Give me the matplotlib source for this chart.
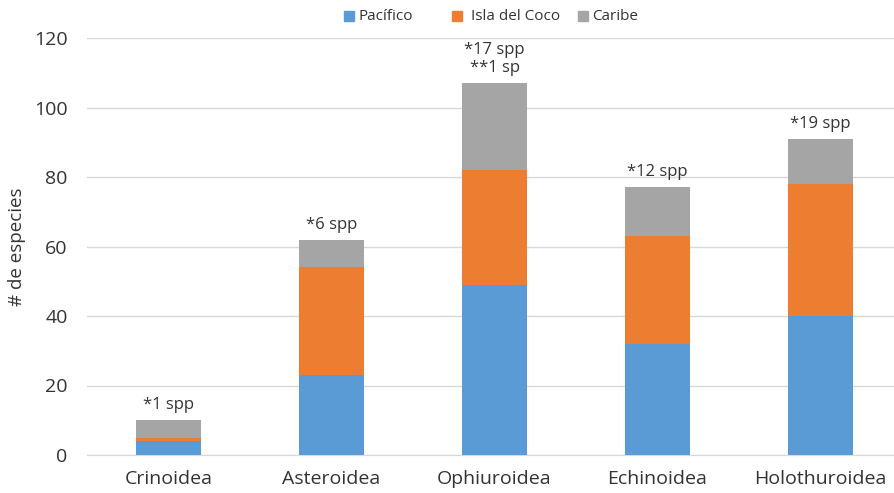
import matplotlib.pyplot as plt
from matplotlib.patches import Rectangle
import numpy as np

plt.rcParams['font.family'] = ['Open Sans', 'DejaVu Sans']

clases = ["Crinoidea", "Asteroidea", "Ophiuroidea", "Echinoidea", "Holothuroidea"]
pacifico = [4, 23, 49, 32, 40]
coco = [1, 31, 33, 31, 38]
caribe = [5, 8, 25, 14, 13]
notas = ["*1 spp", "*6 spp", "*17 spp\n**1 sp", "*12 spp", "*19 spp"]
series = ["Pacífico", "Isla del Coco", "Caribe"]
colores = ["#5B9BD5", "#ED7D31", "#A5A5A5"]

W, H = 895, 493
fig = plt.figure(figsize=(W / 100, H / 100), dpi=100)
ax = fig.add_axes([87 / W, 38 / H, 808 / W, 417 / H])

x = np.arange(len(clases))
w = 0.4
ax.bar(x, pacifico, w, color=colores[0], zorder=3)
ax.bar(x, coco, w, bottom=pacifico, color=colores[1], zorder=3)
base = np.array(pacifico) + np.array(coco)
ax.bar(x, caribe, w, bottom=base, color=colores[2], zorder=3)

# notes above each bar
total = base + np.array(caribe)
for xi, t, n in zip(x, total, notas):
    ax.annotate(n, (xi, t), xytext=(0, 5), textcoords="offset points",
                ha="center", va="bottom", fontsize=12, color="#333333",
                linespacing=1.15)

ax.set_xlim(-0.5, 4.5 - 7 / 163)
ax.set_ylim(0, 120)
ax.set_yticks(range(0, 121, 20))
ax.set_xticks(x)
ax.set_xticklabels(clases)
ax.tick_params(axis="both", length=0, labelsize=14, colors="#333333")
ax.tick_params(axis="x", pad=11)
ax.tick_params(axis="y", pad=14)
ax.grid(axis="y", color="#D9D9D9", linewidth=1, zorder=0)
for s in ["top", "right", "left"]:
    ax.spines[s].set_visible(False)
ax.spines["bottom"].set_color("#D9D9D9")
ax.set_ylabel("# de especies", fontsize=13.5, color="#333333", labelpad=6)

# legend drawn by hand to keep the uneven spacing of the original
leg_x = [344, 452, 578]
txt_x = [358, 471, 592]
for lx, tx, nombre, c in zip(leg_x, txt_x, series, colores):
    fig.patches.append(Rectangle((lx / W, (H - 21) / H), 10 / W, 10 / H,
                                 color=c, transform=fig.transFigure))
    fig.text(tx / W, (H - 16) / H, nombre, fontsize=11,
             color="#333333", va="center", ha="left")

fig.savefig("out.png", dpi=100)
